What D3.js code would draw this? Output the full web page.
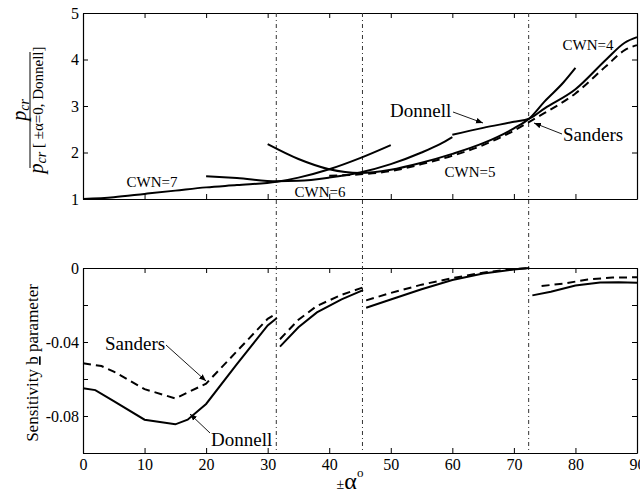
<!DOCTYPE html>
<html>
<head>
<meta charset="utf-8">
<script src="https://cdn.jsdelivr.net/npm/d3@7"></script>
<style>
  body { margin: 0; background: #fff; }
  svg { font-family: "Liberation Serif", "Times New Roman", serif; }
</style>
</head>
<body>
<script>
// Values
const alphaTicks = [0, 10, 20, 30, 40, 50, 60, 70, 80, 90];
const ratioTicks = [1, 2, 3, 4, 5];
const sensTicks = [0, -0.02, -0.04, -0.06, -0.08, -0.1];
const sensLabels = {"0": "0", "-0.04": "-0.04", "-0.08": "-0.08"};
const modeSwitch = [31.4, 45.4, 72.4];

// top panel: Donnell (solid) per circumferential wave number
const cwn7Alpha = [0, 5, 10, 15, 20, 25, 31.5, 35, 40, 45, 50];
const cwn7Donnell = [1.0, 1.04, 1.11, 1.18, 1.25, 1.3, 1.37, 1.46, 1.64, 1.88, 2.16];
const cwn6Alpha = [20, 25, 31.5, 35, 40, 45, 50, 55, 58, 60];
const cwn6Donnell = [1.49, 1.45, 1.38, 1.39, 1.46, 1.57, 1.75, 2.0, 2.18, 2.33];
const cwn5Alpha = [30, 35, 40, 45, 50, 55, 60, 65, 70, 72.5, 75, 78, 80];
const cwn5Donnell = [2.18, 1.86, 1.64, 1.56, 1.63, 1.78, 1.97, 2.2, 2.52, 2.73, 3.1, 3.5, 3.82];
const cwn4Alpha = [60, 65, 70, 72.5, 75, 80, 85, 88, 90];
const cwn4Donnell = [2.38, 2.53, 2.66, 2.73, 2.95, 3.36, 4.0, 4.36, 4.48];
// top panel: Sanders (dashed) lower envelope
const sandersTopAlpha = [40, 45, 50, 55, 60, 65, 70, 72.5, 75, 80, 85, 88, 90];
const sandersTop = [1.5, 1.53, 1.6, 1.75, 1.93, 2.16, 2.47, 2.66, 2.85, 3.27, 3.86, 4.2, 4.31];

// bottom panel: sensitivity b parameter, four branches
const branchAlpha = [
  [0, 2, 5, 10, 15, 17, 20, 25, 30, 31.5],
  [32, 35, 38, 42, 45.5],
  [46, 50, 55, 60, 65, 70, 72.5],
  [73, 76, 80, 84, 87, 90]
];
const branchDonnell = [
  [-0.065, -0.066, -0.072, -0.082, -0.0845, -0.082, -0.0735, -0.052, -0.031, -0.027],
  [-0.0425, -0.032, -0.024, -0.017, -0.012],
  [-0.0215, -0.017, -0.0115, -0.0065, -0.003, -0.0008, 0],
  [-0.0148, -0.0128, -0.0095, -0.0078, -0.0077, -0.008]
];
const sandersAlpha = [
  [0, 3, 5, 10, 15, 20, 25, 30, 31.5],
  [32, 35, 38, 42, 45.5],
  [46, 50, 55, 60, 65, 70, 72.5],
  [74.5, 78, 82, 86, 90]
];
const branchSanders = [
  [-0.0515, -0.053, -0.056, -0.0655, -0.0705, -0.0625, -0.045, -0.0275, -0.0245],
  [-0.0385, -0.028, -0.0205, -0.0145, -0.0105],
  [-0.0175, -0.0135, -0.009, -0.0055, -0.0025, -0.0005, 0],
  [-0.0097, -0.0085, -0.0062, -0.0052, -0.005]
];

const width = 640, height = 495;
const svg = d3.select("body").append("svg")
  .attr("width", width).attr("height", height);

svg.append("defs").append("marker")
  .attr("id", "arrow").attr("viewBox", "0 0 10 10")
  .attr("refX", 10).attr("refY", 5)
  .attr("markerWidth", 7).attr("markerHeight", 7)
  .attr("markerUnits", "userSpaceOnUse")
  .attr("orient", "auto")
  .append("path").attr("d", "M0,1 L10,5 L0,9 Z").attr("fill", "#000");

const x = d3.scaleLinear().domain([0, 90]).range([83, 637]);
const yTop = d3.scaleLinear().domain([1, 5]).range([199, 13]);
const yBot = d3.scaleLinear().domain([-0.1, 0]).range([453, 268]);

function frame(y, tickVals, fmtLeft, fmtBottom) {
  const g = svg.append("g");
  const [y0, y1] = y.range();
  // left
  g.append("g").attr("transform", `translate(${x(0)},0)`)
    .call(d3.axisLeft(y).tickValues(tickVals).tickSizeInner(-5).tickSizeOuter(0)
      .tickPadding(4).tickFormat(fmtLeft));
  // right
  g.append("g").attr("transform", `translate(${x(90)},0)`)
    .call(d3.axisRight(y).tickValues(tickVals).tickSizeInner(-5).tickSizeOuter(0)
      .tickFormat(""));
  // bottom
  g.append("g").attr("transform", `translate(0,${y0})`)
    .call(d3.axisBottom(x).tickValues(alphaTicks).tickSizeInner(-5).tickSizeOuter(0)
      .tickPadding(6).tickFormat(fmtBottom));
  // top
  g.append("g").attr("transform", `translate(0,${y1})`)
    .call(d3.axisTop(x).tickValues(alphaTicks).tickSizeInner(-5).tickSizeOuter(0)
      .tickFormat(""));
  g.selectAll(".domain").attr("stroke", "#000").attr("stroke-width", 1.2);
  g.selectAll(".tick line").attr("stroke", "#000");
  g.selectAll(".tick text").attr("font-size", 16).attr("fill", "#000")
    .attr("font-family", "Liberation Serif, serif");
  return g;
}

frame(yTop, ratioTicks, d3.format("d"), "");
frame(yBot, sensTicks, d => sensLabels[String(d)] || "", d3.format("d"));

// mode switch dash-dot lines
svg.append("g").selectAll("line").data(modeSwitch).join("line")
  .attr("x1", d => x(d)).attr("x2", d => x(d))
  .attr("y1", yTop(5)).attr("y2", yBot(-0.1))
  .attr("stroke", "#333").attr("stroke-width", 1)
  .attr("stroke-dasharray", "4,3,1,3");

const lineTop = d3.line().x(d => x(d[0])).y(d => yTop(d[1])).curve(d3.curveMonotoneX);
const lineBot = d3.line().x(d => x(d[0])).y(d => yBot(d[1]));
const zip = (a, b) => a.map((v, i) => [v, b[i]]);

const topSeries = [
  zip(cwn7Alpha, cwn7Donnell), zip(cwn6Alpha, cwn6Donnell),
  zip(cwn5Alpha, cwn5Donnell), zip(cwn4Alpha, cwn4Donnell)
];
svg.append("path").datum(zip(sandersTopAlpha, sandersTop))
  .attr("d", lineTop).attr("fill", "none").attr("stroke", "#000")
  .attr("stroke-width", 2).attr("stroke-dasharray", "8,5");
svg.append("g").selectAll("path").data(topSeries).join("path")
  .attr("d", lineTop).attr("fill", "none").attr("stroke", "#000").attr("stroke-width", 2);

svg.append("g").selectAll("path").data(branchAlpha.map((a, i) => zip(a, branchDonnell[i])))
  .join("path").attr("d", lineBot).attr("fill", "none")
  .attr("stroke", "#000").attr("stroke-width", 2);
svg.append("g").selectAll("path").data(sandersAlpha.map((a, i) => zip(a, branchSanders[i])))
  .join("path").attr("d", lineBot).attr("fill", "none")
  .attr("stroke", "#000").attr("stroke-width", 2).attr("stroke-dasharray", "8,5");

// labels on curves
function label(txt, px, py, size, anchor) {
  svg.append("text").attr("x", px).attr("y", py).attr("font-size", size)
    .attr("text-anchor", anchor || "middle").text(txt);
}
label("CWN=7", 152, 187, 15);
label("CWN=6", 320, 197, 15);
label("CWN=5", 470, 177, 15);
label("CWN=4", 588, 50, 15);
label("Donnell", 390, 117, 19, "start");
label("Sanders", 563, 141, 19, "start");
label("Sanders", 105, 350, 19, "start");
label("Donnell", 211, 446, 19, "start");

function arrow(x1, y1, x2, y2) {
  svg.append("line").attr("x1", x1).attr("y1", y1).attr("x2", x2).attr("y2", y2)
    .attr("stroke", "#000").attr("stroke-width", 0.9).attr("marker-end", "url(#arrow)");
}
arrow(453, 112, 483, 123);
arrow(562, 134, 534, 123);
arrow(166, 345, 206, 381);
arrow(210, 433, 190, 414);

// y label, top: fraction
const yl = svg.append("g").attr("transform", "translate(0,110) rotate(-90)");
const num = yl.append("text").attr("x", 0).attr("y", 26).attr("text-anchor", "middle")
  .attr("font-size", 20).attr("font-style", "italic");
num.append("tspan").text("p");
num.append("tspan").attr("font-size", 14).attr("dy", 3).text("cr");
yl.append("line").attr("x1", -58).attr("x2", 58).attr("y1", 30).attr("y2", 30)
  .attr("stroke", "#000").attr("stroke-width", 1);
const den = yl.append("text").attr("x", 0).attr("y", 43).attr("text-anchor", "middle")
  .attr("font-size", 15);
den.append("tspan").attr("font-style", "italic").attr("font-size", 20).text("p");
den.append("tspan").attr("font-style", "italic").attr("font-size", 14).attr("dy", 3).text("cr");
den.append("tspan").attr("dy", -3).text(" [ \u00b1\u03b1=0, Donnell]");

// y label, bottom
const yb = svg.append("text").attr("transform", "translate(38,363) rotate(-90)")
  .attr("text-anchor", "middle").attr("font-size", 17);
yb.append("tspan").text("Sensitivity ");
yb.append("tspan").attr("text-decoration", "underline").text("b");
yb.append("tspan").text(" parameter");

// x label
const xl = svg.append("text").attr("x", 350).attr("y", 489).attr("text-anchor", "middle");
xl.append("tspan").attr("font-size", 14).text("\u00b1");
xl.append("tspan").attr("font-size", 24).text("\u03b1");
xl.append("tspan").attr("font-size", 13).attr("dy", -12).text("o");
</script>
</body>
</html>
